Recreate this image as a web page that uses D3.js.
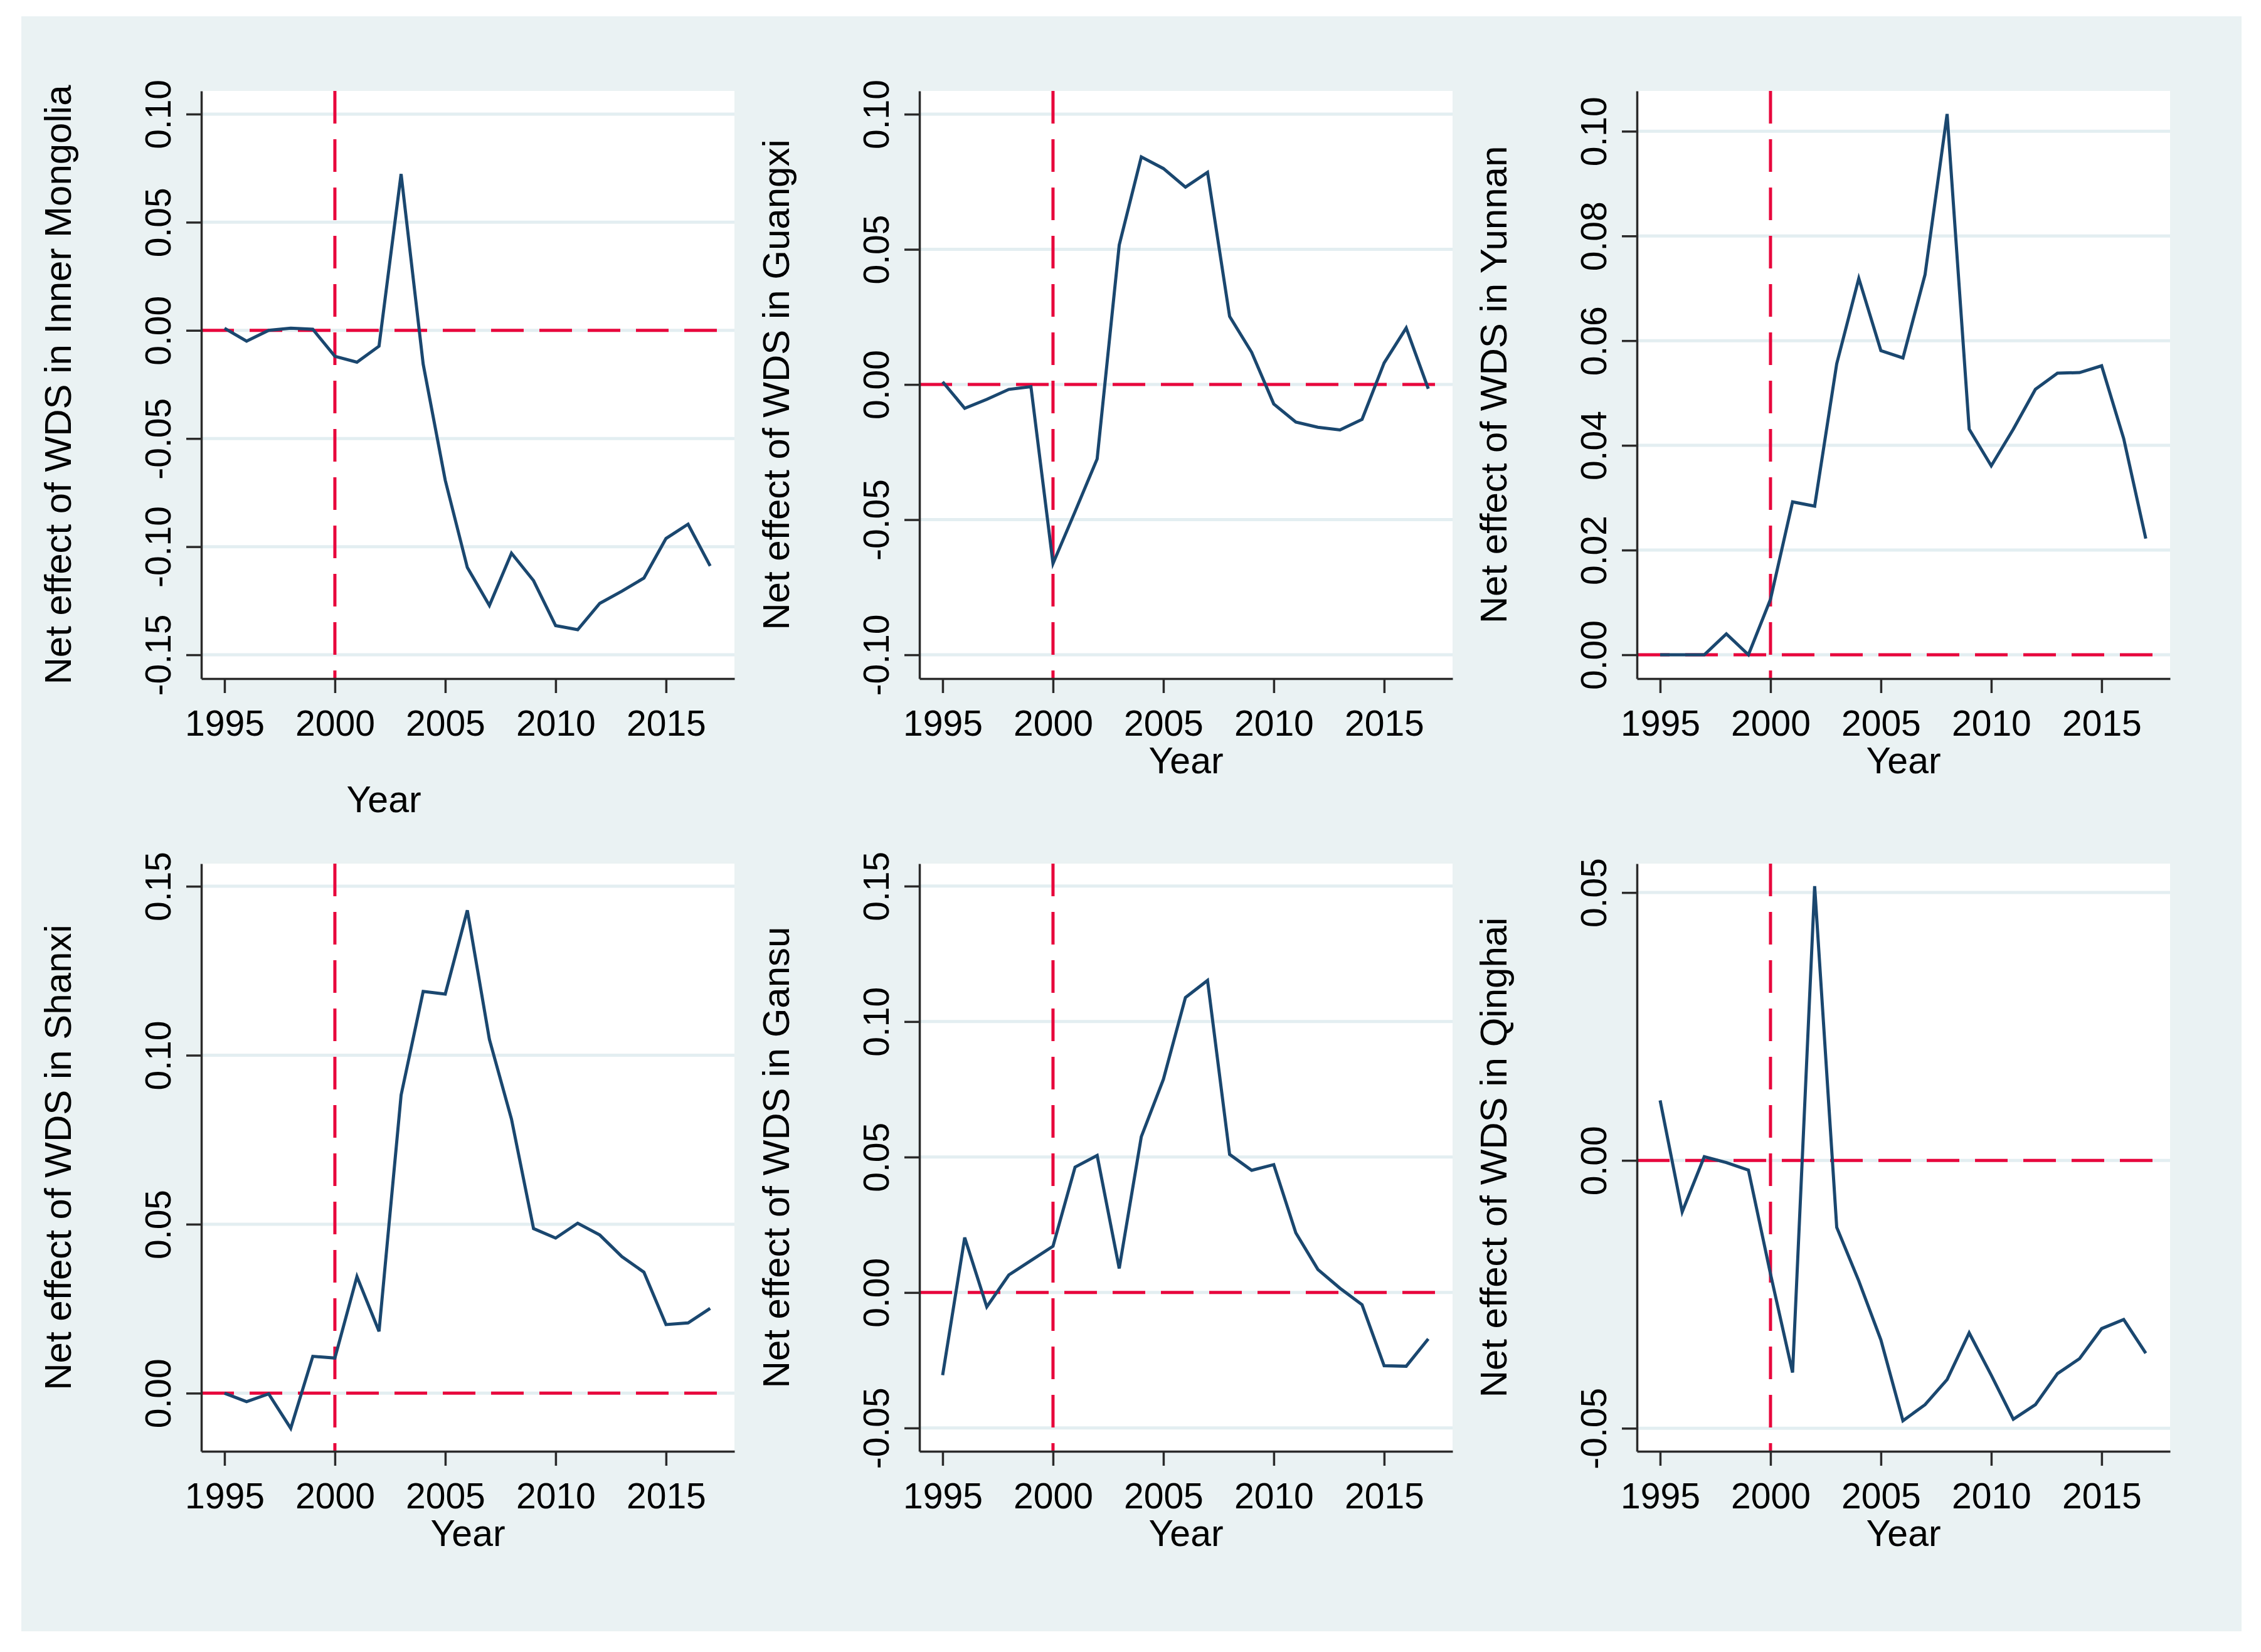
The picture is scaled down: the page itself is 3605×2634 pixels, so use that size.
<!DOCTYPE html>
<html>
<head>
<meta charset="utf-8">
<script src="https://cdn.jsdelivr.net/npm/d3@7"></script>
<style>
  body { margin: 0; background: #ffffff; }
  text { font-family: "Liberation Sans", Arial, sans-serif; fill: #000; }
</style>
</head>
<body>
<script>
// years on the x axis
var years = [1995, 1996, 1997, 1998, 1999, 2000, 2001, 2002, 2003, 2004, 2005, 2006,
             2007, 2008, 2009, 2010, 2011, 2012, 2013, 2014, 2015, 2016, 2017];
var xTicks = [1995, 2000, 2005, 2010, 2015];

var regions = ["Inner Mongolia", "Guangxi", "Yunnan", "Shanxi", "Gansu", "Qinghai"];

// net effect series
var innerMongolia = [0.001, -0.005, 0.000, 0.001, 0.0005, -0.012, -0.0147, -0.0073, 0.0723, -0.0156,
                     -0.0693, -0.1096, -0.1272, -0.103, -0.1157, -0.1365, -0.1384, -0.1262, -0.1206,
                     -0.1145, -0.0962, -0.0896, -0.1089];
var guangxi = [0.001, -0.0088, -0.0055, -0.0018, -0.0008, -0.0662, -0.047, -0.0275, 0.0516, 0.0842,
               0.0799, 0.073, 0.0785, 0.0252, 0.0119, -0.0072, -0.0139, -0.0158, -0.0168, -0.0129,
               0.008, 0.0209, -0.0016];
var yunnan = [0.000, 0.000, 0.000, 0.004, 0.000, 0.0106, 0.0292, 0.0284, 0.0556, 0.0719, 0.0581,
              0.0567, 0.0726, 0.1033, 0.0431, 0.0361, 0.0431, 0.0507, 0.0538, 0.0539, 0.0552,
              0.0413, 0.0222];
var shanxi = [0.000, -0.0025, -0.0002, -0.0104, 0.0109, 0.0104, 0.0345, 0.0183, 0.0882, 0.1189,
              0.1181, 0.1429, 0.1047, 0.0811, 0.0487, 0.0459, 0.0503, 0.0468, 0.0404, 0.0358,
              0.0203, 0.0208, 0.0251];
var gansu = [-0.0305, 0.0203, -0.0053, 0.0065, 0.0118, 0.0171, 0.0463, 0.0506, 0.0089, 0.0575,
             0.0787, 0.1089, 0.1152, 0.051, 0.0451, 0.0472, 0.022, 0.0085, 0.0016, -0.0045,
             -0.027, -0.0272, -0.0171];
var qinghai = [0.0112, -0.0096, 0.0007, -0.0004, -0.0018, -0.0212, -0.0396, 0.0512, -0.0125, -0.0225,
               -0.0335, -0.0486, -0.0456, -0.0409, -0.0322, -0.0401, -0.0483, -0.0456, -0.0398,
               -0.037, -0.0314, -0.0297, -0.036];

var series = [innerMongolia, guangxi, yunnan, shanxi, gansu, qinghai];

// y axis ticks and ranges for each panel
var yTicks = [
  [-0.15, -0.10, -0.05, 0.00, 0.05, 0.10],
  [-0.10, -0.05, 0.00, 0.05, 0.10],
  [0.00, 0.02, 0.04, 0.06, 0.08, 0.10],
  [0.00, 0.05, 0.10, 0.15],
  [-0.05, 0.00, 0.05, 0.10, 0.15],
  [-0.05, 0.00, 0.05]
];
var yRanges = [
  [-0.161, 0.1107],
  [-0.1088, 0.1086],
  [-0.00455, 0.1077],
  [-0.0172, 0.1567],
  [-0.0586, 0.1583],
  [-0.0543, 0.0554]
];
var xRange = [1993.95, 2018.1];
var treatYear = 2000;

var W = 3605, H = 2634;
var colLeft = [321, 1466, 2610];
var rowTop = [145, 1377];
var plotW = 850, plotH = 937;

var bg = "#eaf2f3", navy = "#1a476f", red = "#e8063c", axisCol = "#2a2a2a";

var svg = d3.select("body").append("svg")
  .attr("width", W)
  .attr("height", H);

svg.append("rect").attr("width", W).attr("height", H).attr("fill", "#fff");
svg.append("rect")
  .attr("x", 34).attr("y", 26)
  .attr("width", 3574 - 34).attr("height", 2601 - 26)
  .attr("fill", bg);

regions.forEach(function(name, i) {
  var left = colLeft[i % 3], top = rowTop[Math.floor(i / 3)];
  var g = svg.append("g").attr("transform", "translate(" + left + "," + top + ")");

  var x = d3.scaleLinear().domain(xRange).range([0, plotW]);
  var y = d3.scaleLinear().domain(yRanges[i]).range([plotH, 0]);

  g.append("rect").attr("width", plotW).attr("height", plotH).attr("fill", "#fff");

  // grid
  g.selectAll(".grid").data(yTicks[i]).enter().append("line")
    .attr("x1", 0).attr("x2", plotW)
    .attr("y1", d => y(d)).attr("y2", d => y(d))
    .attr("stroke", "#e3eef1").attr("stroke-width", 5);

  // reference lines
  g.append("line")
    .attr("x1", 0).attr("x2", plotW - 12)
    .attr("y1", y(0)).attr("y2", y(0))
    .attr("stroke", red).attr("stroke-width", 5)
    .attr("stroke-dasharray", "52,25");
  g.append("line")
    .attr("x1", x(treatYear)).attr("x2", x(treatYear))
    .attr("y1", 0).attr("y2", plotH)
    .attr("stroke", red).attr("stroke-width", 5)
    .attr("stroke-dasharray", "52,25");

  var line = d3.line().x((d, k) => x(years[k])).y(d => y(d));
  g.append("path").datum(series[i])
    .attr("d", line)
    .attr("fill", "none")
    .attr("stroke", navy)
    .attr("stroke-width", 5)
    .attr("stroke-linejoin", "miter");

  // y axis
  var ya = g.append("g").call(d3.axisLeft(y).tickValues(yTicks[i]).tickSize(24).tickSizeOuter(0));
  ya.select(".domain").attr("stroke", axisCol).attr("stroke-width", 3.5);
  ya.selectAll(".tick line").attr("stroke", axisCol).attr("stroke-width", 3.5);
  ya.selectAll(".tick text")
    .text(d => d.toFixed(2))
    .attr("x", null).attr("dy", null)
    .attr("transform", "translate(-69,0) rotate(-90)")
    .attr("text-anchor", "middle")
    .attr("dominant-baseline", "central")
    .style("font-size", "57px")
    .style("font-family", "'Liberation Sans', Arial, sans-serif")
    .attr("fill", "#000");

  // x axis
  var xa = g.append("g").attr("transform", "translate(0," + plotH + ")")
    .call(d3.axisBottom(x).tickValues(xTicks).tickSize(23).tickSizeOuter(0).tickFormat(d3.format("d")));
  xa.select(".domain").attr("stroke", axisCol).attr("stroke-width", 3.5);
  xa.selectAll(".tick line").attr("stroke", axisCol).attr("stroke-width", 3.5);
  xa.selectAll(".tick text")
    .attr("y", 71).attr("dy", null)
    .attr("dominant-baseline", "central")
    .style("font-size", "57px")
    .style("font-family", "'Liberation Sans', Arial, sans-serif")
    .attr("fill", "#000");

  // axis titles
  g.append("text")
    .attr("transform", "translate(-229," + plotH / 2 + ") rotate(-90)")
    .attr("text-anchor", "middle")
    .attr("dominant-baseline", "central")
    .style("font-size", "60px")
    .text("Net effect of WDS in " + name);

  var yearX = i === 0 ? 612 - left : plotW / 2;
  var yearY = i === 0 ? plotH + 193 : plotH + 131;
  g.append("text")
    .attr("x", yearX).attr("y", yearY)
    .attr("text-anchor", "middle")
    .attr("dominant-baseline", "central")
    .style("font-size", "59px")
    .text("Year");
});
</script>
</body>
</html>
